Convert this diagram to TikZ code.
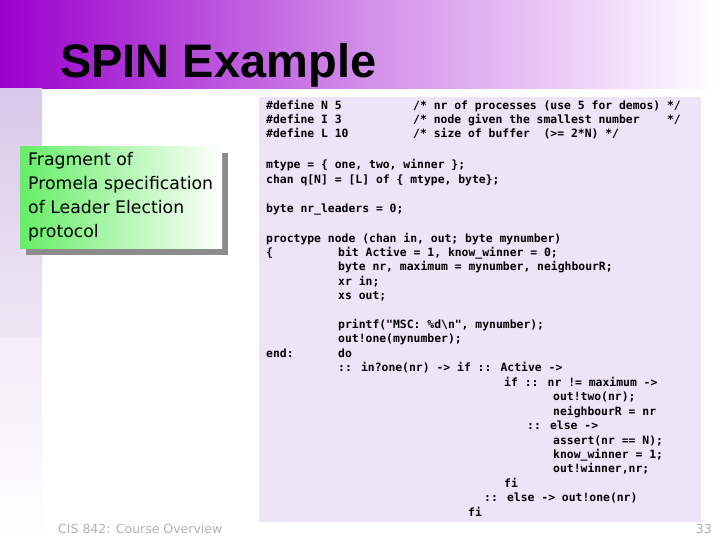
\documentclass[tikz,border=0pt]{standalone}
\usepackage{fontspec}
\setmainfont{Liberation Sans}
\newfontfamily\codef{DejaVu Sans Mono}
\newfontfamily\boxf{DejaVu Sans}
\definecolor{hdr}{HTML}{9A00CC}
\definecolor{codebg}{HTML}{EEE4F8}
\definecolor{strip}{HTML}{D9C8E8}
\definecolor{boxg}{HTML}{66EE66}
\begin{document}
\begin{tikzpicture}[x=1pt,y=-1pt,
  code/.style={anchor=base west,inner sep=0pt,font=\codef\bfseries\fontsize{11.4}{12}\selectfont}]
\useasboundingbox (0,0) rectangle (720,540);
\fill[white] (0,0) rectangle (720,540);
% header gradient
\shade[left color=hdr,right color=white,middle color=hdr!45] (0,0) rectangle (720,89);
% left strip
\shade[top color=strip,bottom color=strip!45] (0,89) rectangle (42,336);
\shade[top color=strip!35,bottom color=white] (0,337) rectangle (42,540);
\node[anchor=base west,inner sep=0pt,font=\bfseries\fontsize{47}{50}\selectfont] (title) at (60,78) {SPIN Example};
% code box
\fill[codebg] (259,97) rectangle (701,522);
% green box with shadow
\fill[gray!90] (26,153) rectangle (228,255);
\shade[left color=boxg,right color=white] (20,147) rectangle (222,248);
\node[anchor=north west,align=left,inner sep=0pt,font=\boxf\fontsize{17.3}{24}\selectfont] (lbl) at (28,152)
 {Fragment of\\Promela specification\\of Leader Election\\protocol};
% code
\node[code] (c1) at (266,110) {\#define N 5};
\node[code] (c2) at (266,124) {\#define I 3};
\node[code] (c3) at (266,138) {\#define L 10};
\node[code] (k1) at (413,110) {/* nr of processes (use 5 for demos) */};
\node[code] (k2) at (413,124) {/* node given the smallest number~~~~*/};
\node[code] (k3) at (413,138) {/* size of buffer~~(>= 2*N) */};
\node[code] (c4) at (266,169) {mtype = \{ one, two, winner \};};
\node[code] (c5) at (266,184) {chan q[N] = [L] of \{ mtype, byte\};};
\node[code] (c6) at (266,213) {byte nr\_leaders = 0;};
\node[code] (c7) at (266,242) {proctype node (chan in, out; byte mynumber)};
\node[code] (c8) at (266,256) {\{};
\node[code] (c9) at (338,256) {bit Active = 1, know\_winner = 0;};
\node[code] (c10) at (338,270) {byte nr, maximum = mynumber, neighbourR;};
\node[code] (c11) at (338,285) {xr in;};
\node[code] (c12) at (338,299) {xs out;};
\node[code] (c13) at (338,328) {printf("MSC: \%d\textbackslash n", mynumber);};
\node[code] (c14) at (338,342) {out!one(mynumber);};
\node[code] (c15) at (266,357) {end:};
\node[code] (c16) at (338,357) {do};
\node[code] (c17) at (338,371) {:: in?one(nr) -> if :: Active ->};
\node[code] (c18) at (504,386) {if :: nr != maximum ->};
\node[code] (c19) at (553,400) {out!two(nr);};
\node[code] (c20) at (553,415) {neighbourR = nr};
\node[code] (c21) at (527,429) {:: else ->};
\node[code] (c22) at (553,444) {assert(nr == N);};
\node[code] (c23) at (553,458) {know\_winner = 1;};
\node[code] (c24) at (553,472) {out!winner,nr;};
\node[code] (c25) at (504,487) {fi};
\node[code] (c26) at (484,501) {:: else -> out!one(nr)};
\node[code] (c27) at (468,516) {fi};
% footer
\node[anchor=base west,inner sep=0pt,text=gray!60,font=\boxf\fontsize{12.5}{13}\selectfont] (foot) at (58,533) {CIS 842: Course Overview};
\node[anchor=base east,inner sep=0pt,text=gray!60,font=\boxf\fontsize{12.5}{13}\selectfont] (pg) at (712,533) {33};
\end{tikzpicture}
\end{document}
